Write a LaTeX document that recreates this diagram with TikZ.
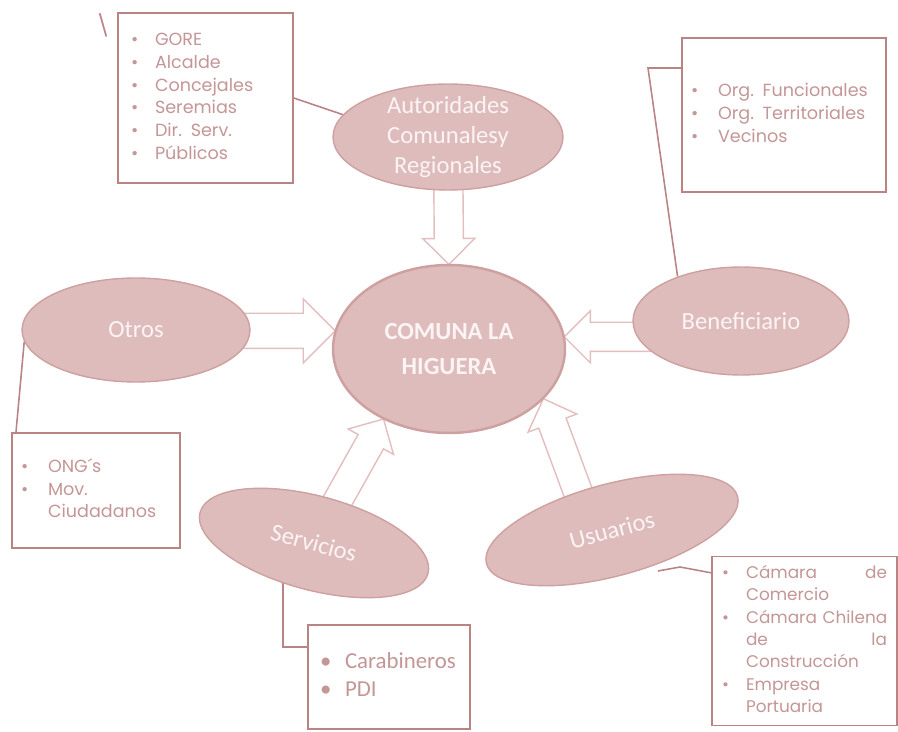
\documentclass[tikz,border=0pt]{standalone}
\usepackage{fontspec}
\setmainfont{Carlito}
\newfontfamily\gothic{Poppins}
\usetikzlibrary{shapes.geometric,shapes.arrows,calc,backgrounds}

\definecolor{ellfill}{RGB}{222,188,188}
\definecolor{elldraw}{RGB}{206,160,160}
\definecolor{elltext}{RGB}{252,244,244}
\definecolor{boxline}{RGB}{186,132,132}
\definecolor{boxtext}{RGB}{196,150,150}
\definecolor{arrowline}{RGB}{228,190,190}

% hollow block arrow from #2 (tail) to #3 (tip)
\newcommand\pusharrow[3][]{%
  \path let \p1=(#2), \p2=(#3), \n1={atan2(\y2-\y1,\x2-\x1)}, \n2={veclen(\x2-\x1,\y2-\y1)} in
    node[hollow,#1,rotate=\n1,minimum height=\n2] at (\p1) {};}

\begin{document}
\begin{tikzpicture}[x=0.02cm,y=-0.02cm]
	\tikzstyle{actor}=[ellipse,draw=elldraw,line width=0.8pt,fill=ellfill,text=elltext,inner sep=0pt,align=center,font=\fontsize{14}{17}\selectfont]
	\tikzstyle{listbox}=[draw=boxline,line width=0.9pt,fill=white,text=boxtext,font=\gothic\fontsize{10}{13}\selectfont]
	\tikzstyle{link}=[draw=boxline,line width=0.9pt]
	\tikzstyle{hollow}=[single arrow,draw=arrowline,fill=white,line width=0.8pt,inner xsep=0pt,inner ysep=7.9pt,single arrow head extend=6.5pt,single arrow tip angle=90,minimum width=0pt,anchor=tail]

	\useasboundingbox (0,0) rectangle (898,732);

	% the commune and the actors round it
	\node[actor,line width=1.4pt,minimum width=4.64cm,minimum height=3.36cm,font=\bfseries\fontsize{14}{20}\selectfont] (com) at (449,349) {COMUNA LA\\HIGUERA};
	\node[actor,minimum width=4.6cm,minimum height=2.12cm,inner ysep=-4pt] (aut) at (448,137) {Autoridades\\Comunalesy\\Regionales};
	\node[actor,minimum width=4.56cm,minimum height=2.08cm] (otros) at (136,330) {Otros};
	\node[actor,minimum width=4.32cm,minimum height=2.16cm] (ben) at (741,321) {Beneficiario};
	\node[actor,minimum width=4.72cm,minimum height=1.88cm,rotate=-15] (serv) at (314,543) {Servicios};
	\node[actor,minimum width=5.2cm,minimum height=1.84cm,rotate=15] (usr) at (612,530) {Usuarios};

	% lists
	\node[listbox,text width=2.98cm,inner xsep=0.26cm,minimum height=3.4cm] (autlist) at (205.5,98) {
		\begin{tabular}{@{}p{0.48cm}@{}l@{}}
			\textbullet & GORE \\
			\textbullet & Alcalde \\
			\textbullet & Concejales \\
			\textbullet & Seremias \\
			\textbullet & Dir. Serv. \\
			\textbullet & Públicos
		\end{tabular}};

	\node[listbox,text width=3.72cm,inner xsep=0.18cm,minimum height=3.08cm] (benlist) at (784,115) {
		\begin{tabular}{@{}p{0.54cm}@{}l@{}}
			\textbullet & Org. Funcionales \\
			\textbullet & Org. Territoriales \\
			\textbullet & Vecinos
		\end{tabular}};

	\node[listbox,text width=3.0cm,inner xsep=0.18cm,minimum height=2.3cm] (otroslist) at (96,490.5) {
		\begin{tabular}{@{}p{0.54cm}@{}l@{}}
			\textbullet & ONG´s \\
			\textbullet & Mov. \\
			 & Ciudadanos
		\end{tabular}};

	\node[listbox,text width=3.3cm,inner xsep=0.2cm,minimum height=3.16cm,font=\gothic\fontsize{9.6}{12.8}\selectfont] (usrlist) at (804.5,641) {
		\begin{tabular}{@{}p{0.48cm}@{}p{2.82cm}@{}}
			\textbullet & Cámara\hfill de \\
			 & Comercio \\
			\textbullet & \mbox{Cámara Chilena} \\
			 & de\hfill la \\
			 & Construcción \\
			\textbullet & Empresa \\
			 & Portuaria
		\end{tabular}};

	\node[listbox,text width=2.76cm,inner xsep=0.24cm,minimum height=2.08cm,font=\fontsize{13}{16}\selectfont] (servlist) at (389,677) {
		\begin{tabular}{@{}p{0.5cm}@{}l@{}}
			\textbullet & Carabineros \\
			\textbullet & PDI
		\end{tabular}};

	\node[text=boxline,font=\gothic\fontsize{12}{12}\selectfont] (mark) at (103,25) {\textbackslash};

	\coordinate (benknee) at (648,68);
	\coordinate (otrosend) at (15,443);
	\coordinate (servknee) at (283,647);
	\coordinate (usrstart) at (658,571);
	\coordinate (usrknee) at (680,567);
	\coordinate (usrend) at (712,573);

	\begin{pgfonlayer}{background}
		\pusharrow{aut.center}{com.north}
		\pusharrow[inner ysep=9.6pt,single arrow head extend=8.2pt]{otros.center |- com.171}{com.171}
		\pusharrow{ben.center |- com.6}{com.6}
		\pusharrow{serv.center}{com.227}
		\pusharrow{[xshift=-0.4cm]usr.center}{com.-28}

		\draw[link] (autlist.east) -- (aut.168);
		\draw[link] (benlist.west |- benknee) -- (benknee) -- (ben.145);
		\draw[link] (otros.186) -- (otrosend);
		\draw[link] (serv.center -| servknee) -- (servknee) -- (servlist.west |- servknee);
		\draw[link] (usrstart) -- (usrknee) -- (usrend);
	\end{pgfonlayer}
\end{tikzpicture}
\end{document}
